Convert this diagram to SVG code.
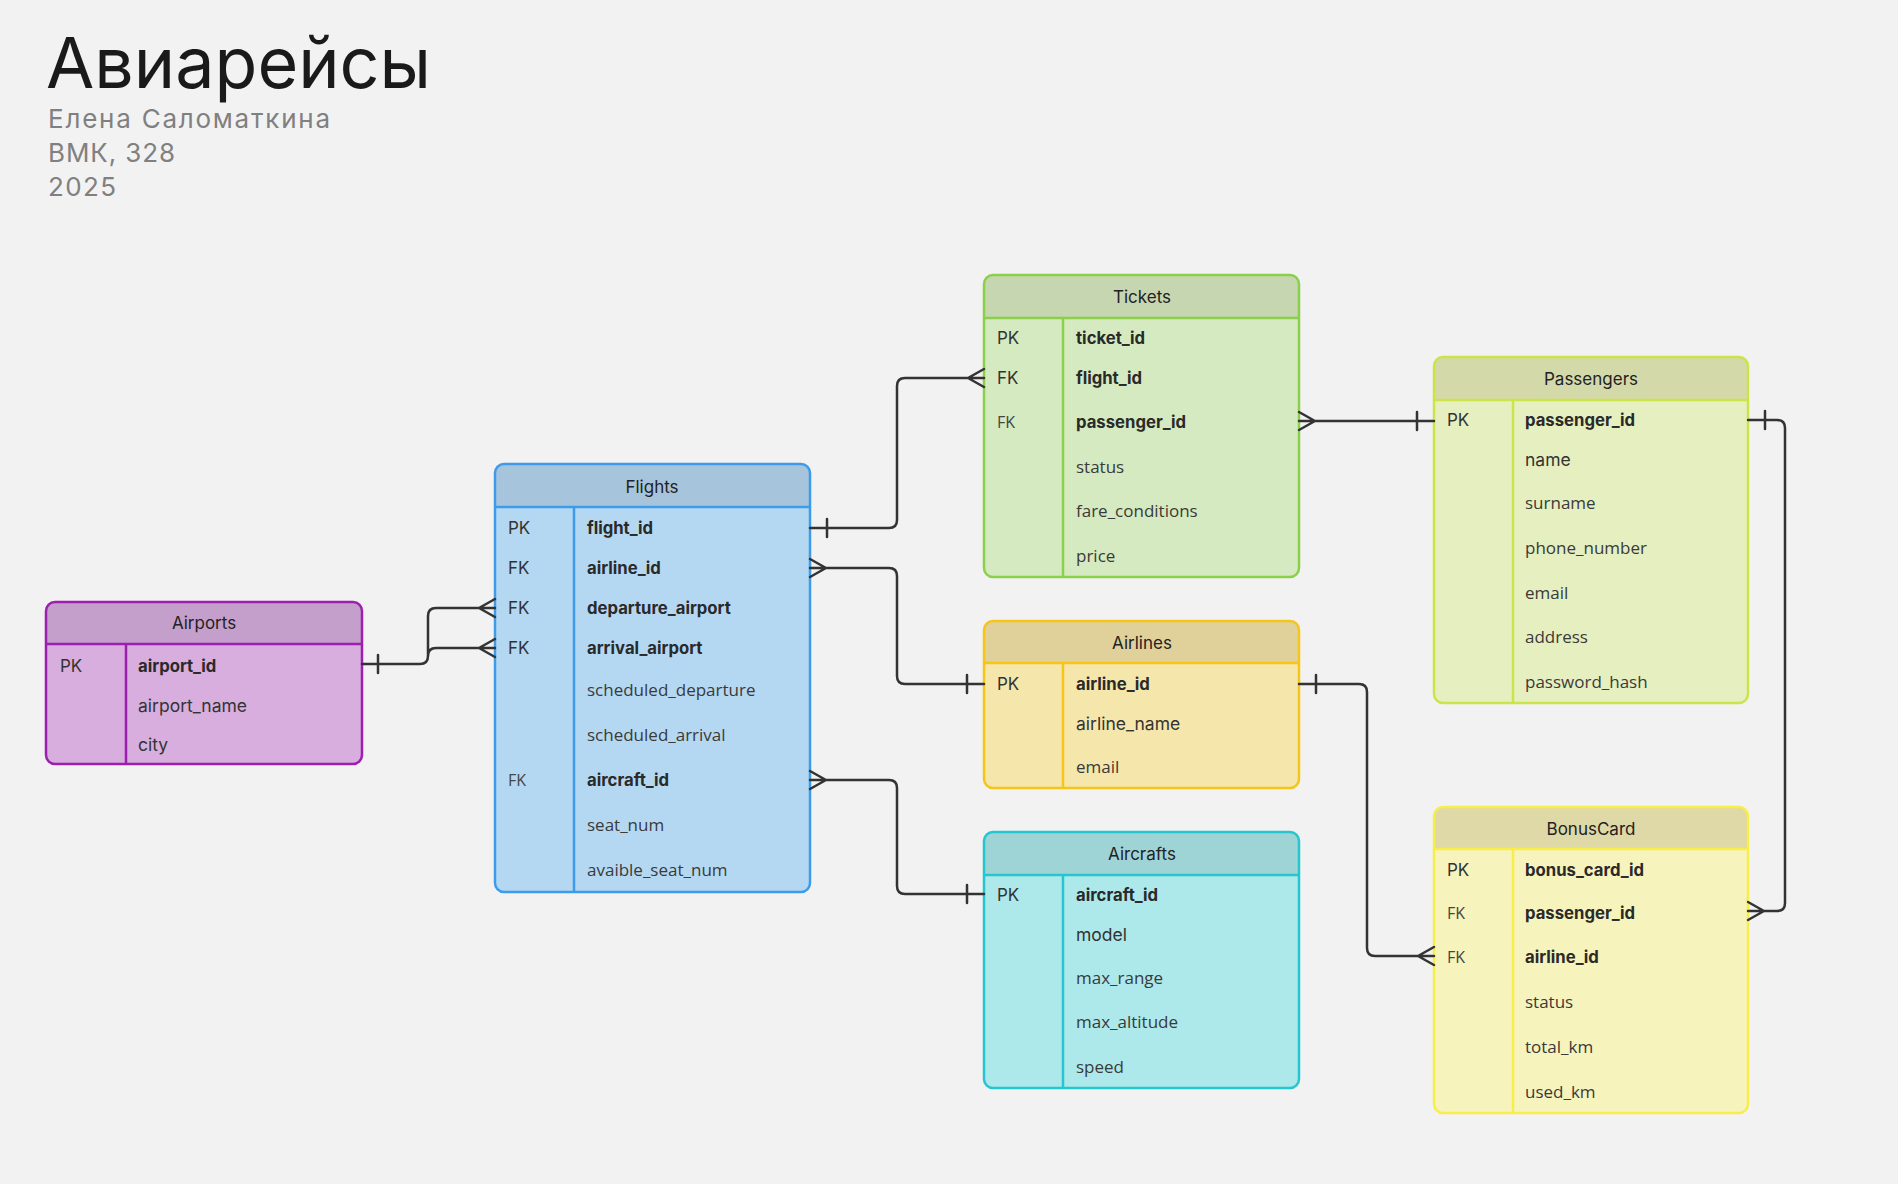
<svg xmlns="http://www.w3.org/2000/svg" width="1898" height="1184" viewBox="0 0 1898 1184">
<style>
.title{font-family:Inter,"Noto Sans",sans-serif;font-size:70px;fill:#1a1a1a}
.sub{font-family:Inter,"Noto Sans",sans-serif;font-size:26px;fill:#808080}
.hdr{font-family:Inter,"Noto Sans",sans-serif;font-size:17px;fill:#222;text-anchor:middle}
.k{font-family:Inter,"Noto Sans",sans-serif;font-size:17px;fill:#333}
.kl{font-family:"Open Sans",sans-serif;font-size:16px;fill:#444}
.b{font-family:Inter,"Noto Sans",sans-serif;font-size:16.7px;font-weight:700;fill:#2a2a2a}
.g{font-family:Inter,"Noto Sans",sans-serif;font-size:17.5px;fill:#333}
.n{font-family:"Open Sans",sans-serif;font-size:17px;fill:#3a3a3a}
.ln{fill:none;stroke:#333;stroke-width:2.5;stroke-linecap:round;stroke-linejoin:round}
.frame{fill:none;stroke-width:2.5}
</style>
<rect width="1898" height="1184" fill="#f2f2f2"/>
<g id="title">
<text class="title" x="46" y="88">Авиарейсы</text>
<text class="sub" x="48" y="128" textLength="282">Елена Саломаткина</text>
<text class="sub" x="48" y="162" textLength="127">ВМК, 328</text>
<text class="sub" x="48" y="196" textLength="68">2025</text>
</g>

<g id="airports">
<rect x="46" y="602" width="316" height="162" rx="9" fill="#d7aede"/>
<path d="M46,644 V611 Q46,602 55,602 H353 Q362,602 362,611 V644 Z" fill="#c49fcb"/>
<rect class="frame" x="46" y="602" width="316" height="162" rx="9" stroke="#9c1fb0"/>
<path d="M46,644 H362 M126,644 V764" stroke="#9c1fb0" stroke-width="2.5"/>
<text class="hdr" x="204" y="629">Airports</text>
<text class="k" x="60" y="672">PK</text>
<text class="b" x="138" y="672">airport_id</text>
<text class="g" x="138" y="712">airport_name</text>
<text class="g" x="138" y="751">city</text>
</g>

<g id="flights">
<rect x="495" y="464" width="315" height="428" rx="9" fill="#b5d8f2"/>
<path d="M495,507 V473 Q495,464 504,464 H801 Q810,464 810,473 V507 Z" fill="#a7c4dd"/>
<rect class="frame" x="495" y="464" width="315" height="428" rx="9" stroke="#3d9be9"/>
<path d="M495,507 H810 M574,507 V892" stroke="#3d9be9" stroke-width="2.5"/>
<text class="hdr" x="652" y="493">Flights</text>
<text class="k" x="508" y="534">PK</text><text class="b" x="587" y="534">flight_id</text>
<text class="k" x="508" y="574">FK</text><text class="b" x="587" y="574">airline_id</text>
<text class="k" x="508" y="614">FK</text><text class="b" x="587" y="614">departure_airport</text>
<text class="k" x="508" y="654">FK</text><text class="b" x="587" y="654">arrival_airport</text>
<text class="n" x="587" y="696">scheduled_departure</text>
<text class="n" x="587" y="741">scheduled_arrival</text>
<text class="kl" x="508" y="786">FK</text><text class="b" x="587" y="786">aircraft_id</text>
<text class="n" x="587" y="831">seat_num</text>
<text class="n" x="587" y="876">avaible_seat_num</text>
</g>

<g id="tickets">
<rect x="984" y="275" width="315" height="302" rx="9" fill="#d5eac0"/>
<path d="M984,318 V284 Q984,275 993,275 H1290 Q1299,275 1299,284 V318 Z" fill="#c5d6b0"/>
<rect class="frame" x="984" y="275" width="315" height="302" rx="9" stroke="#8bd04a"/>
<path d="M984,318 H1299 M1063,318 V577" stroke="#8bd04a" stroke-width="2.5"/>
<text class="hdr" x="1142" y="303">Tickets</text>
<text class="k" x="997" y="344">PK</text><text class="b" x="1076" y="344">ticket_id</text>
<text class="k" x="997" y="384">FK</text><text class="b" x="1076" y="384">flight_id</text>
<text class="kl" x="997" y="428">FK</text><text class="b" x="1076" y="428">passenger_id</text>
<text class="n" x="1076" y="473">status</text>
<text class="n" x="1076" y="517">fare_conditions</text>
<text class="n" x="1076" y="562">price</text>
</g>

<g id="airlines">
<rect x="984" y="621" width="315" height="167" rx="9" fill="#f5e6ac"/>
<path d="M984,663 V630 Q984,621 993,621 H1290 Q1299,621 1299,630 V663 Z" fill="#e0d09a"/>
<rect class="frame" x="984" y="621" width="315" height="167" rx="9" stroke="#f5c518"/>
<path d="M984,663 H1299 M1063,663 V788" stroke="#f5c518" stroke-width="2.5"/>
<text class="hdr" x="1142" y="649">Airlines</text>
<text class="k" x="997" y="690">PK</text><text class="b" x="1076" y="690">airline_id</text>
<text class="g" x="1076" y="730">airline_name</text>
<text class="n" x="1076" y="773">email</text>
</g>

<g id="aircrafts">
<rect x="984" y="832" width="315" height="256" rx="9" fill="#ade8ea"/>
<path d="M984,875 V841 Q984,832 993,832 H1290 Q1299,832 1299,841 V875 Z" fill="#9fd4d6"/>
<rect class="frame" x="984" y="832" width="315" height="256" rx="9" stroke="#26c6d0"/>
<path d="M984,875 H1299 M1063,875 V1088" stroke="#26c6d0" stroke-width="2.5"/>
<text class="hdr" x="1142" y="860">Aircrafts</text>
<text class="k" x="997" y="901">PK</text><text class="b" x="1076" y="901">aircraft_id</text>
<text class="g" x="1076" y="941">model</text>
<text class="n" x="1076" y="984">max_range</text>
<text class="n" x="1076" y="1028">max_altitude</text>
<text class="n" x="1076" y="1073">speed</text>
</g>

<g id="passengers">
<rect x="1434" y="357" width="314" height="346" rx="9" fill="#e6efbf"/>
<path d="M1434,400 V366 Q1434,357 1443,357 H1739 Q1748,357 1748,366 V400 Z" fill="#d3d9a9"/>
<rect class="frame" x="1434" y="357" width="314" height="346" rx="9" stroke="#cde34a"/>
<path d="M1434,400 H1748 M1513,400 V703" stroke="#cde34a" stroke-width="2.5"/>
<text class="hdr" x="1591" y="385">Passengers</text>
<text class="k" x="1447" y="426">PK</text><text class="b" x="1525" y="426">passenger_id</text>
<text class="g" x="1525" y="466">name</text>
<text class="n" x="1525" y="509">surname</text>
<text class="n" x="1525" y="554">phone_number</text>
<text class="n" x="1525" y="599">email</text>
<text class="n" x="1525" y="643">address</text>
<text class="n" x="1525" y="688">password_hash</text>
</g>

<g id="bonuscard">
<rect x="1434" y="807" width="314" height="306" rx="9" fill="#f7f3bd"/>
<path d="M1434,849 V816 Q1434,807 1443,807 H1739 Q1748,807 1748,816 V849 Z" fill="#ded9a6"/>
<rect class="frame" x="1434" y="807" width="314" height="306" rx="9" stroke="#f8ee4a"/>
<path d="M1434,849 H1748 M1513,849 V1113" stroke="#f8ee4a" stroke-width="2.5"/>
<text class="hdr" x="1591" y="835">BonusCard</text>
<text class="k" x="1447" y="876">PK</text><text class="b" x="1525" y="876">bonus_card_id</text>
<text class="kl" x="1447" y="919">FK</text><text class="b" x="1525" y="919">passenger_id</text>
<text class="kl" x="1447" y="963">FK</text><text class="b" x="1525" y="963">airline_id</text>
<text class="n" x="1525" y="1008">status</text>
<text class="n" x="1525" y="1053">total_km</text>
<text class="n" x="1525" y="1098">used_km</text>
</g>

<g id="connectors">
<path class="ln" d="M810,528 H889 Q897,528 897,520 V386 Q897,378 905,378 H984 M827,519 V537 M968,378 L984,369 M968,378 L984,387"/>
<path class="ln" d="M810,568 H889 Q897,568 897,576 V676 Q897,684 905,684 H984 M826,568 L810,559 M826,568 L810,577 M967,675 V693"/>
<path class="ln" d="M810,780 H889 Q897,780 897,788 V886 Q897,894 905,894 H984 M826,780 L810,771 M826,780 L810,789 M967,885 V903"/>
<path class="ln" d="M362,664 H420 Q428,664 428,656 V616 Q428,608 436,608 H495 M420,664 Q428,664 428,656 Q428,648 436,648 H495 M378,655 V673 M479,608 L495,599 M479,608 L495,617 M479,648 L495,639 M479,648 L495,657"/>
<path class="ln" d="M1299,421 H1434 M1315,421 L1299,412 M1315,421 L1299,430 M1417,412 V430"/>
<path class="ln" d="M1299,684 H1359 Q1367,684 1367,692 V948 Q1367,956 1375,956 H1434 M1316,675 V693 M1418,956 L1434,947 M1418,956 L1434,965"/>
<path class="ln" d="M1748,420 H1777 Q1785,420 1785,428 V903 Q1785,911 1777,911 H1748 M1765,411 V429 M1764,911 L1748,902 M1764,911 L1748,920"/>
</g>
</svg>
